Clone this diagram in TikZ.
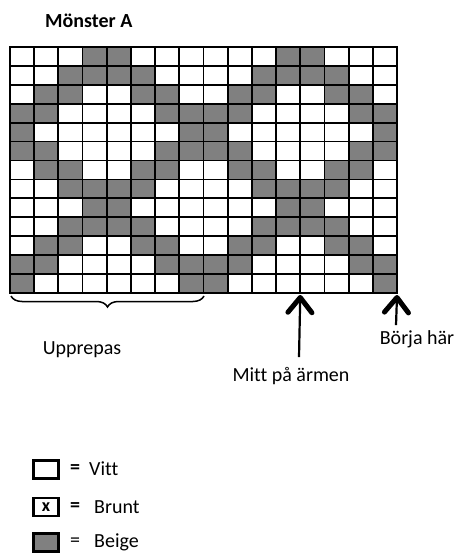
\documentclass[tikz,border=0pt]{standalone}
\usepackage{fontspec}
\setmainfont[Ligatures=NoCommon]{Carlito}
\usetikzlibrary{arrows.meta,decorations.pathreplacing}
\definecolor{beige}{gray}{0.5}

\begin{document}
\begin{tikzpicture}[x=1pt, y=-1pt]
  \tikzset{
    cell/.style={draw=black, line width=1.8pt},
    legbox/.style={draw=black, line width=2.2pt, minimum width=25pt, minimum height=18pt, inner sep=0pt},
    lbl/.style={font=\fontsize{20}{24}\selectfont, inner sep=1pt},
    pil/.style={line width=2.2pt, -{Straight Barb[length=15pt, width=24pt, line width=5pt, round]}}
  }
  \useasboundingbox (0,0) rectangle (457,553);

  % Rubrik
  \node[lbl, font=\fontsize{20}{24}\selectfont\bfseries, anchor=west] (titel) at (44,21) {Mönster A};

  % Rutnät: 16 kolumner, 13 rader
  \def\bw{24.19}
  \def\bh{18.92}
  \foreach \r/\cols in {1/{4,5}, 2/{3,4,5,6}, 3/{2,3,6,7}, 4/{1,2,7,8}, 5/{1,8},
                        6/{1,2,7,8}, 7/{2,3,6,7}, 8/{3,4,5,6}, 9/{4,5}, 10/{3,4,5,6},
                        11/{2,3,6,7}, 12/{1,2,7,8}, 13/{1,8}}{
    \foreach \c in \cols {
      \foreach \k in {0,8}{
        \fill[beige] ({10+(\c+\k-1)*\bw},{47+(\r-1)*\bh}) rectangle ++(\bw,\bh);
      }
    }
  }
  \foreach \c in {0,...,16}{
    \draw[line width=1.8pt] ({10+\c*\bw},47) -- ({10+\c*\bw},293);
  }
  \foreach \r in {0,...,13}{
    \draw[line width=1.8pt] (9.1,{47+\r*\bh}) -- (397.9,{47+\r*\bh});
  }

  % Punkter under rutnätet
  \coordinate (bv) at (11,296);
  \coordinate (bh) at (204,296);
  \coordinate (mitt) at ({10+12*\bw},295);
  \coordinate (start) at ({10+16*\bw},295);

  % Klammer
  \draw[line width=1.5pt, decorate, decoration={brace, mirror, amplitude=11pt, raise=0pt}] (bv) -- (bh);
  \node[lbl] (upp) at (82,350) {Upprepas};

  % Pilar
  \node[lbl] (mittlbl) at (291,376) {Mitt på ärmen};
  \node[lbl] (borja) at (417,339) {Börja här};
  \draw[pil] (mittlbl.north) ++(8,-9) coordinate (m1) -- (mitt);
  \draw[pil] (borja.north) ++(-21,-4) coordinate (b1) -- (start);

  % Teckenförklaring
  \node[legbox] (vitt) at (46,469.5) {};
  \node[legbox, font=\fontsize{18}{20}\selectfont\bfseries] (brunt) at (46,507) {x};
  \node[legbox, fill=beige] (beigebox) at (46,542.5) {};
  \node[lbl, font=\fontsize{20}{24}\selectfont\bfseries] (eq1) at (75,469) {=};
  \node[lbl, font=\fontsize{20}{24}\selectfont\bfseries] (eq2) at (75,507) {=};
  \node[lbl] (eq3) at (75,542) {=};
  \node[lbl, anchor=west] (vittlbl) at (88,469) {Vitt};
  \node[lbl, anchor=west] (bruntlbl) at (93,507) {Brunt};
  \node[lbl, anchor=west] (beigelbl) at (93,542) {Beige};
\end{tikzpicture}
\end{document}
